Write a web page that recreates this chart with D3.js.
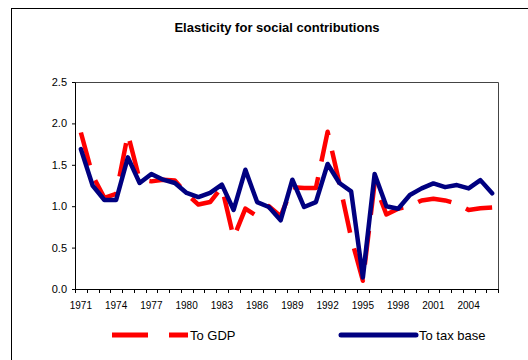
<!DOCTYPE html>
<html><head><meta charset="utf-8">
<script src="https://cdn.jsdelivr.net/npm/d3@7"></script>
<style>body{margin:0;background:#fff}svg{display:block;font-family:Arial,"Liberation Sans",sans-serif}</style>
</head><body>
<svg id="c" width="528" height="360"></svg>
<script>
const years = d3.range(1971, 2007).map(String);
const toGDP = [1.89,1.37,1.10,1.15,1.87,1.32,1.30,1.32,1.31,1.15,1.02,1.05,1.23,0.62,0.97,0.88,1.00,0.88,1.23,1.22,1.22,1.90,1.28,0.62,0.10,1.28,0.90,0.97,1.00,1.07,1.09,1.07,1.03,0.955,0.975,0.985];
const toTaxBase = [1.69,1.25,1.075,1.075,1.59,1.28,1.39,1.32,1.28,1.16,1.11,1.16,1.26,0.955,1.44,1.05,0.99,0.83,1.32,0.99,1.05,1.51,1.28,1.18,0.14,1.39,1.00,0.97,1.135,1.215,1.275,1.23,1.255,1.215,1.315,1.155];
const yTicks = [0, 0.5, 1.0, 1.5, 2.0, 2.5];
const xLabelYears = years.filter((d,i)=> i % 3 === 0);
const seriesNames = ["To GDP", "To tax base"];
const seriesColors = ["#ff0000", "#000080"];

const svg = d3.select("#c");
const L = 75, R = 498, T = 82, B = 289;

// outer frame
svg.append("rect").attr("x",11.5).attr("y",8.5).attr("width",530).attr("height",360).attr("fill","none").attr("stroke","#000").attr("stroke-width",1);

svg.append("text").attr("x",277).attr("y",32).attr("text-anchor","middle").attr("font-weight","bold").attr("font-size",13).text("Elasticity for social contributions");

const x = d3.scaleBand().domain(years).range([L, R]);
const y = d3.scaleLinear().domain([0, 2.5]).range([B, T]);

// plot border top/right
svg.append("path").attr("d",`M${L},${T+0.5}H${R+0.5}V${B}`).attr("fill","none").attr("stroke","#444").attr("stroke-width",1);

// y axis
const ya = svg.append("g").attr("transform",`translate(${L},0)`)
  .call(d3.axisLeft(y).tickValues(yTicks).tickFormat(d3.format(".1f")).tickSize(3).tickSizeOuter(0));
ya.select(".domain").attr("stroke","#000");
ya.selectAll("text").attr("font-size",11).attr("font-family","Arial, 'Liberation Sans', sans-serif").attr("fill","#000").attr("dx","-2");

// x axis
const xa = svg.append("g").attr("transform",`translate(0,${B})`)
  .call(d3.axisBottom(x).tickValues(xLabelYears).tickSize(0).tickPadding(13));
xa.select(".domain").attr("stroke","#000");
xa.selectAll("text").attr("font-size",10).attr("font-family","Arial, 'Liberation Sans', sans-serif").attr("fill","#000");
const bounds = years.map(d=>x(d)).concat([R]);
svg.append("g").selectAll("line").data(bounds).join("line")
  .attr("x1",d=>Math.round(d)+0.5).attr("x2",d=>Math.round(d)+0.5).attr("y1",B).attr("y2",B+4).attr("stroke","#000");

const cx = d => x(d) + x.bandwidth()/2;
const line = d3.line().x(d=>cx(d[0])).y(d=>y(d[1]));

svg.append("path").datum(years.map((d,i)=>[d,toGDP[i]])).attr("d",line)
  .attr("fill","none").attr("stroke",seriesColors[0]).attr("stroke-width",4.5).attr("stroke-dasharray","34,16").attr("stroke-linejoin","round");
svg.append("path").datum(years.map((d,i)=>[d,toTaxBase[i]])).attr("d",line)
  .attr("fill","none").attr("stroke",seriesColors[1]).attr("stroke-width",4.5).attr("stroke-linejoin","round").attr("stroke-linecap","round");

// legend
const lg = svg.append("g");
lg.append("line").attr("x1",112).attr("x2",188).attr("y1",335).attr("y2",335).attr("stroke",seriesColors[0]).attr("stroke-width",5).attr("stroke-dasharray","36,21");
lg.append("text").attr("x",190).attr("y",340).attr("font-size",13).text(seriesNames[0]);
lg.append("line").attr("x1",341).attr("x2",416).attr("y1",335).attr("y2",335).attr("stroke",seriesColors[1]).attr("stroke-width",5).attr("stroke-linecap","round");
lg.append("text").attr("x",419).attr("y",340).attr("font-size",13).text(seriesNames[1]);
</script>
</body></html>
